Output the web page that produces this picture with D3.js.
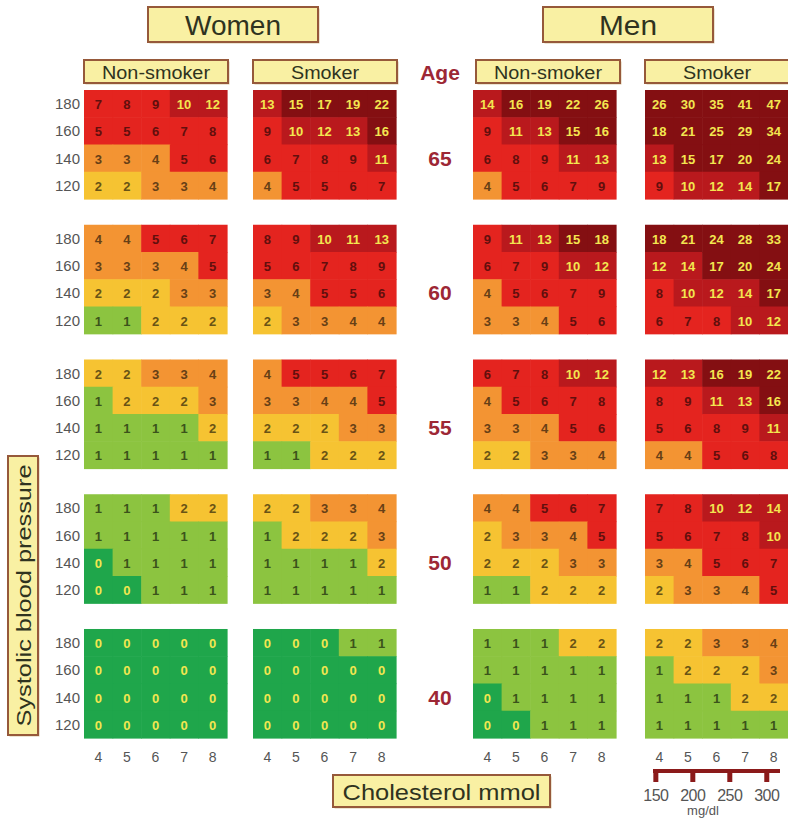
<!DOCTYPE html>
<html>
<head>
<meta charset="utf-8">
<script src="https://cdn.jsdelivr.net/npm/d3@7/dist/d3.min.js"></script>
<style>
  body { margin: 0; background: #fff; }
  text { font-family: 'Liberation Sans', Arial, sans-serif; }
</style>
</head>
<body>
<div id="chart"></div>
<script>
// SCORE 10-year risk, rows = systolic BP (180..120), cols = cholesterol 4..8 mmol
const ages = [65, 60, 55, 50, 40]
const sbp = [180, 160, 140, 120]
const chol = [4, 5, 6, 7, 8]
const mgdl = [150, 200, 250, 300]

const womenNonSmoker = [
  [[7, 8, 9, 10, 12], [5, 5, 6, 7, 8], [3, 3, 4, 5, 6], [2, 2, 3, 3, 4]],
  [[4, 4, 5, 6, 7], [3, 3, 3, 4, 5], [2, 2, 2, 3, 3], [1, 1, 2, 2, 2]],
  [[2, 2, 3, 3, 4], [1, 2, 2, 2, 3], [1, 1, 1, 1, 2], [1, 1, 1, 1, 1]],
  [[1, 1, 1, 2, 2], [1, 1, 1, 1, 1], [0, 1, 1, 1, 1], [0, 0, 1, 1, 1]],
  [[0, 0, 0, 0, 0], [0, 0, 0, 0, 0], [0, 0, 0, 0, 0], [0, 0, 0, 0, 0]]
]
const womenSmoker = [
  [[13, 15, 17, 19, 22], [9, 10, 12, 13, 16], [6, 7, 8, 9, 11], [4, 5, 5, 6, 7]],
  [[8, 9, 10, 11, 13], [5, 6, 7, 8, 9], [3, 4, 5, 5, 6], [2, 3, 3, 4, 4]],
  [[4, 5, 5, 6, 7], [3, 3, 4, 4, 5], [2, 2, 2, 3, 3], [1, 1, 2, 2, 2]],
  [[2, 2, 3, 3, 4], [1, 2, 2, 2, 3], [1, 1, 1, 1, 2], [1, 1, 1, 1, 1]],
  [[0, 0, 0, 1, 1], [0, 0, 0, 0, 0], [0, 0, 0, 0, 0], [0, 0, 0, 0, 0]]
]
const menNonSmoker = [
  [[14, 16, 19, 22, 26], [9, 11, 13, 15, 16], [6, 8, 9, 11, 13], [4, 5, 6, 7, 9]],
  [[9, 11, 13, 15, 18], [6, 7, 9, 10, 12], [4, 5, 6, 7, 9], [3, 3, 4, 5, 6]],
  [[6, 7, 8, 10, 12], [4, 5, 6, 7, 8], [3, 3, 4, 5, 6], [2, 2, 3, 3, 4]],
  [[4, 4, 5, 6, 7], [2, 3, 3, 4, 5], [2, 2, 2, 3, 3], [1, 1, 2, 2, 2]],
  [[1, 1, 1, 2, 2], [1, 1, 1, 1, 1], [0, 1, 1, 1, 1], [0, 0, 1, 1, 1]]
]
const menSmoker = [
  [[26, 30, 35, 41, 47], [18, 21, 25, 29, 34], [13, 15, 17, 20, 24], [9, 10, 12, 14, 17]],
  [[18, 21, 24, 28, 33], [12, 14, 17, 20, 24], [8, 10, 12, 14, 17], [6, 7, 8, 10, 12]],
  [[12, 13, 16, 19, 22], [8, 9, 11, 13, 16], [5, 6, 8, 9, 11], [4, 4, 5, 6, 8]],
  [[7, 8, 10, 12, 14], [5, 6, 7, 8, 10], [3, 4, 5, 6, 7], [2, 3, 3, 4, 5]],
  [[2, 2, 3, 3, 4], [1, 2, 2, 2, 3], [1, 1, 1, 2, 2], [1, 1, 1, 1, 1]]
]

const panels = [
  { key: 'wn', sex: 'Women', label: 'Non-smoker', values: womenNonSmoker },
  { key: 'ws', sex: 'Women', label: 'Smoker', values: womenSmoker },
  { key: 'mn', sex: 'Men', label: 'Non-smoker', values: menNonSmoker },
  { key: 'ms', sex: 'Men', label: 'Smoker', values: menSmoker }
]

const width = 788
const height = 829
const panelW = 143

const svg = d3.select('#chart').append('svg')
  .attr('width', width)
  .attr('height', height)

const panelX = d3.scaleOrdinal()
  .domain(panels.map(d => d.key))
  .range([84, 253, 473, 645])

const ageY = d3.scaleBand()
  .domain(ages)
  .range([90, 738])
  .paddingInner(0.191)

const colX = d3.scaleBand().domain(chol).range([0, panelW])
const rowY = d3.scaleBand().domain(sbp).range([0, ageY.bandwidth()])

const riskColor = d3.scaleThreshold()
  .domain([1, 2, 3, 5, 10, 15])
  .range(['#1fa64b', '#8cc440', '#f6c332', '#f39433', '#e4241f', '#b9191d', '#840f12'])

const textColor = v => (v === 0 || v >= 10) ? '#f3e650' : d3.color(riskColor(v)).darker(2.4)

// header boxes
function box (x, y, w, h, label, size, len, rotate) {
  const g = svg.append('g').attr('transform', `translate(${x},${y})`)
  g.append('rect')
    .attr('x', 1.5).attr('y', 1.5)
    .attr('width', w).attr('height', h)
    .attr('fill', '#d9c9a8')
  g.append('rect')
    .attr('width', w).attr('height', h)
    .attr('fill', '#f9f0a3')
    .attr('stroke', '#96593a')
    .attr('stroke-width', 2)
  const t = g.append('text')
    .attr('fill', '#2f3320')
    .attr('font-size', size)
    .attr('text-anchor', 'middle')
    .attr('dominant-baseline', 'central')
    .text(label)
  if (len) t.attr('textLength', len).attr('lengthAdjust', 'spacingAndGlyphs')
  if (rotate) {
    t.attr('transform', `translate(${w / 2},${h / 2}) rotate(-90)`)
  } else {
    t.attr('x', w / 2).attr('y', h / 2 + 1)
  }
}

box(148, 7, 170, 35, 'Women', 27, 96)
box(543, 7, 170, 35, 'Men', 27, 58)
panels.forEach(p => box(panelX(p.key) + (p.key === 'mn' ? 3 : 0), 60, 144, 23, p.label, 18,
  p.label === 'Smoker' ? 68 : 108))
box(333, 775, 217, 32, 'Cholesterol  mmol', 22, 198)
box(8, 456, 30, 279, 'Systolic blood pressure', 21, 262, true)

// age labels
svg.append('text')
  .attr('x', 440).attr('y', 72)
  .attr('text-anchor', 'middle')
  .attr('dominant-baseline', 'central')
  .attr('font-size', 21).attr('font-weight', 'bold')
  .attr('fill', '#9d2735')
  .text('Age')

svg.selectAll('.age-label')
  .data(ages)
  .join('text')
  .attr('class', 'age-label')
  .attr('x', 440)
  .attr('y', a => ageY(a) + rowY(140) + rowY.bandwidth() / 2)
  .attr('text-anchor', 'middle')
  .attr('dominant-baseline', 'central')
  .attr('font-size', 21).attr('font-weight', 'bold')
  .attr('fill', '#9d2735')
  .text(a => a)

// SBP labels on the left of every block
ages.forEach(a => {
  svg.append('g')
    .selectAll('text')
    .data(sbp)
    .join('text')
    .attr('x', 80)
    .attr('y', s => ageY(a) + rowY(s) + rowY.bandwidth() / 2)
    .attr('text-anchor', 'end')
    .attr('dominant-baseline', 'central')
    .attr('font-size', 15)
    .attr('fill', '#555')
    .text(s => s)
})

// risk cells
panels.forEach(p => {
  const px = panelX(p.key)
  ages.forEach((a, ai) => {
    const cells = []
    sbp.forEach((s, ri) => chol.forEach((c, ci) => cells.push({ s, c, v: p.values[ai][ri][ci] })))
    const g = svg.append('g').attr('transform', `translate(${px},${ageY(a)})`)
    g.selectAll('rect')
      .data(cells)
      .join('rect')
      .attr('x', d => colX(d.c))
      .attr('y', d => rowY(d.s))
      .attr('width', colX.bandwidth() + 0.6)
      .attr('height', rowY.bandwidth() + 0.6)
      .attr('fill', d => riskColor(d.v))
    g.selectAll('text')
      .data(cells)
      .join('text')
      .attr('x', d => colX(d.c) + colX.bandwidth() / 2)
      .attr('y', d => rowY(d.s) + rowY.bandwidth() / 2 + 1)
      .attr('text-anchor', 'middle')
      .attr('dominant-baseline', 'central')
      .attr('font-size', 13)
      .attr('font-weight', 'bold')
      .attr('fill', d => textColor(d.v))
      .text(d => d.v)
  })

  // cholesterol ticks
  svg.append('g')
    .selectAll('text')
    .data(chol)
    .join('text')
    .attr('x', c => px + colX(c) + colX.bandwidth() / 2)
    .attr('y', 757)
    .attr('text-anchor', 'middle')
    .attr('dominant-baseline', 'central')
    .attr('font-size', 14)
    .attr('fill', '#555')
    .text(c => c)
})

// mg/dl conversion scale under men smokers
const msX = panelX('ms')
const mmolX = d3.scaleLinear()
  .domain([4, 8])
  .range([msX + colX(4) + colX.bandwidth() / 2, msX + colX(8) + colX.bandwidth() / 2])
const toMmol = v => v / 38.67

svg.append('line')
  .attr('x1', msX + 8).attr('x2', msX + 135)
  .attr('y1', 771).attr('y2', 771)
  .attr('stroke', '#8b1a1a')
  .attr('stroke-width', 4)

svg.selectAll('.mg-tick')
  .data(mgdl)
  .join('rect')
  .attr('class', 'mg-tick')
  .attr('x', v => mmolX(toMmol(v)) - 2.5)
  .attr('y', 771)
  .attr('width', 5)
  .attr('height', 11)
  .attr('fill', '#8b1a1a')

svg.selectAll('.mg-label')
  .data(mgdl)
  .join('text')
  .attr('class', 'mg-label')
  .attr('x', v => mmolX(toMmol(v)))
  .attr('y', 795)
  .attr('text-anchor', 'middle')
  .attr('dominant-baseline', 'central')
  .attr('font-size', 16)
  .attr('letter-spacing', -0.5)
  .attr('fill', '#555')
  .text(v => v)

svg.append('text')
  .attr('x', 703).attr('y', 810)
  .attr('text-anchor', 'middle')
  .attr('dominant-baseline', 'central')
  .attr('font-size', 13)
  .attr('fill', '#555')
  .text('mg/dl')
</script>
</body>
</html>
